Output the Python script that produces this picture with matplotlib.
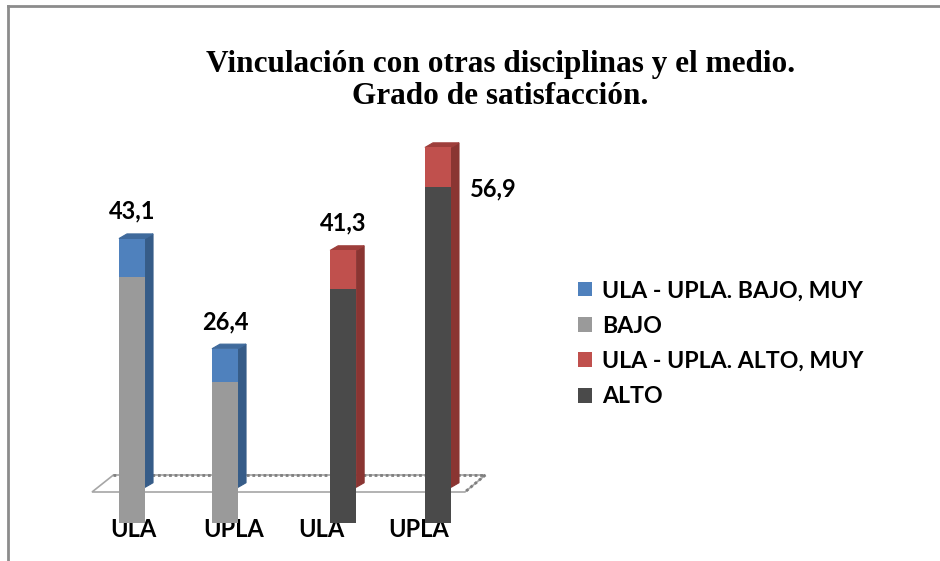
import matplotlib
matplotlib.use("Agg")
import matplotlib.pyplot as plt
from matplotlib.patches import Patch, Polygon
from matplotlib.lines import Line2D

# datos
categorias = ['ULA', 'UPLA', 'ULA', 'UPLA']
base = [37.2, 21.3, 35.5, 50.9]      # BAJO / ALTO
tope = [5.9, 5.1, 5.8, 6.0]          # MUY BAJO / MUY ALTO
totales = ['43,1', '26,4', '41,3', '56,9']
leyenda = ['ULA - UPLA. BAJO, MUY', 'BAJO', 'ULA - UPLA. ALTO, MUY', 'ALTO']

c_base = ['#9A9A9A', '#9A9A9A', '#4A4A4A', '#4A4A4A']
c_tope = ['#4F81BD', '#4F81BD', '#C0504D', '#C0504D']
c_lado = ['#365C88', '#365C88', '#8A3532', '#8A3532']
c_arriba = ['#3F6A9C', '#3F6A9C', '#9E3E3B', '#9E3E3B']

x_pos = [0, 1, 2.27, 3.29]
ancho = 0.28
dx, dy = 0.086, 0.7   # desplazamiento 3D
piso = 5.4

fig = plt.figure(figsize=(9.4, 5.61), dpi=100)
ax = fig.add_axes([0, 0, 1, 1])
ax.set_xlim(-132 / 93, (940 - 132) / 93)
ax.set_ylim(-38 / 6.6, 523 / 6.6)
ax.axis('off')

# piso
piso_pts = [(-0.43, 31 / 6.6), (-0.20, 48 / 6.6), (3.80, 48 / 6.6), (3.58, 31 / 6.6)]
ax.add_patch(Polygon(piso_pts, closed=True, facecolor='white', edgecolor='#A6A6A6', lw=1.2, zorder=1))
ax.plot([piso_pts[1][0], piso_pts[2][0]], [piso_pts[1][1]] * 2, color='#7F7F7F', lw=2, ls=(0, (1, 1)), zorder=1)
ax.plot([piso_pts[2][0], piso_pts[3][0]], [piso_pts[2][1], piso_pts[3][1]], color='#7F7F7F', lw=2, ls=(0, (1, 1)), zorder=1)

# etiquetas del eje (quedan detrás de las barras)
etq_x = [0.01, 1.09, 2.04, 3.08]
for xe, cat in zip(etq_x, categorias):
    ax.text(xe, -1.0, cat, ha='center', va='center', fontsize=17, fontweight='bold',
            family='Lato', zorder=2)

for i in range(len(categorias)):
    xl = x_pos[i] - ancho / 2
    xr = x_pos[i] + ancho / 2
    total = base[i] + tope[i]
    # cara lateral
    ax.add_patch(Polygon([(xr, piso), (xr + dx, piso + dy), (xr + dx, total + dy), (xr, total)],
                         closed=True, facecolor=c_lado[i], edgecolor=c_lado[i], lw=0.8, zorder=3))
    # cara superior
    ax.add_patch(Polygon([(xl, total), (xl + dx, total + dy), (xr + dx, total + dy), (xr, total)],
                         closed=True, facecolor=c_arriba[i], edgecolor=c_arriba[i], lw=0.8, zorder=3))
    # cara frontal
    ax.bar(x_pos[i], base[i], width=ancho, color=c_base[i], zorder=4)
    ax.bar(x_pos[i], tope[i], bottom=base[i], width=ancho, color=c_tope[i], zorder=4)

    if i < 3:
        ax.annotate(totales[i], (x_pos[i], total + dy), xytext=(0, 8), textcoords='offset points',
                    ha='center', va='bottom', fontsize=17, fontweight='bold', family='Lato')
    else:
        ax.annotate(totales[i], (x_pos[i], total), xytext=(40, -30), textcoords='offset points',
                    ha='center', va='center', fontsize=17, fontweight='bold', family='Lato')

# título
fig.text(0.532, 0.856, 'Vinculación con otras disciplinas y el medio.\nGrado de satisfacción.',
         ha='center', va='center', fontsize=22.5, fontweight='bold', family='Liberation Serif',
         linespacing=1.12)

# leyenda
handles = [Patch(facecolor=c) for c in ['#4F81BD', '#9A9A9A', '#C0504D', '#4A4A4A']]
fig.legend(handles, leyenda, loc='upper left', bbox_to_anchor=(0.605, 0.517), frameon=False,
           prop={'family': 'Lato', 'weight': 'bold', 'size': 16.7}, handlelength=0.6,
           handleheight=0.6, handletextpad=0.45, labelspacing=0.62, borderaxespad=0)

# marco
fig.add_artist(Line2D([8 / 940, 8 / 940], [0, 1 - 6 / 561], color='#8C8C8C', lw=2))
fig.add_artist(Line2D([8 / 940, 1], [1 - 6 / 561, 1 - 6 / 561], color='#8C8C8C', lw=2))

fig.savefig('out.png', dpi=100)
